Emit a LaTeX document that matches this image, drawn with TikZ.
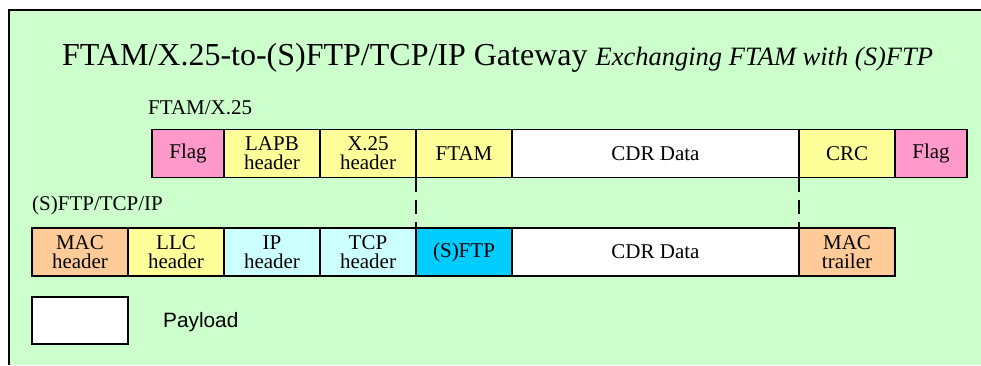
\documentclass[tikz,border=0pt]{standalone}
\usepackage{fontspec}
\setmainfont{Liberation Serif}
\newfontfamily\arialfont{Liberation Sans}
\definecolor{bggreen}{HTML}{CCFFCC}
\definecolor{flagpink}{HTML}{FF99CC}
\definecolor{hdryellow}{HTML}{FFFF99}
\definecolor{ipcyan}{HTML}{CCFFFF}
\definecolor{ftpblue}{HTML}{00CCFF}
\definecolor{macorange}{HTML}{FFCC99}
\tikzset{
  seg/.style={draw=black, line width=1.3pt, minimum height=48pt, inner sep=0pt, outer sep=0pt, align=center,
    font=\fontsize{21}{19}\selectfont, anchor=west},
  lbl/.style={inner sep=0pt, anchor=base west, font=\fontsize{21}{22}\selectfont},
  link/.style={line width=1.5pt, dash pattern=on 14pt off 8pt}
}
\begin{document}
\begin{tikzpicture}[x=1pt,y=-1pt]
\useasboundingbox (0,0) rectangle (981,365);
\fill[white] (0,0) rectangle (981,365);
\fill[bggreen] (9,10) rectangle (981,365);
\draw[line width=1.5pt] (9,365) -- (9,10) -- (981,10);
% title
\node[inner sep=0pt, anchor=base west] (title) at (62,65)
  {\fontsize{32}{34}\selectfont FTAM/X.25-to-(S)FTP/TCP/IP Gateway\hspace{0.25em}\fontsize{26.5}{28}\selectfont\itshape Exchanging FTAM with (S)FTP};
% labels
\node[lbl] (l1) at (148,114) {FTAM/X.25};
\node[lbl] (l2) at (32,210) {(S)FTP/TCP/IP};
% top row
\node[seg, fill=flagpink, minimum width=72pt] (flag1) at (152,153.5) {Flag};
\node[seg, fill=hdryellow, minimum width=96pt] (lapb) at (flag1.east) {LAPB\\header};
\node[seg, fill=hdryellow, minimum width=96pt] (x25) at (lapb.east) {X.25\\header};
\node[seg, fill=hdryellow, minimum width=96pt] (ftam) at (x25.east) {FTAM};
\node[seg, fill=white, minimum width=287pt] (cdr1) at (ftam.east) {CDR Data};
\node[seg, fill=hdryellow, minimum width=96pt] (crc) at (cdr1.east) {CRC};
\node[seg, fill=flagpink, minimum width=72pt] (flag2) at (crc.east) {Flag};
% bottom row
\node[seg, fill=macorange, minimum width=96pt] (mac) at (32,252) {MAC\\header};
\node[seg, fill=hdryellow, minimum width=96pt] (llc) at (mac.east) {LLC\\header};
\node[seg, fill=ipcyan, minimum width=96pt] (ip) at (llc.east) {IP\\header};
\node[seg, fill=ipcyan, minimum width=96pt] (tcp) at (ip.east) {TCP\\header};
\node[seg, fill=ftpblue, minimum width=96pt] (sftp) at (tcp.east) {(S)FTP};
\node[seg, fill=white, minimum width=287pt] (cdr2) at (sftp.east) {CDR Data};
\node[seg, fill=macorange, minimum width=96pt] (trailer) at (cdr2.east) {MAC\\trailer};
% connectors
\draw[link] (ftam.south west) -- (sftp.north west);
\draw[link] (crc.south west) -- (trailer.north west);
% legend
\node[seg, fill=white, minimum width=96pt, minimum height=47pt] (legend) at (32,320.5) {};
\node[inner sep=0pt, anchor=base west, font=\arialfont\fontsize{20.8}{23}\selectfont] (payload) at (163,327) {Payload};
\end{tikzpicture}
\end{document}
